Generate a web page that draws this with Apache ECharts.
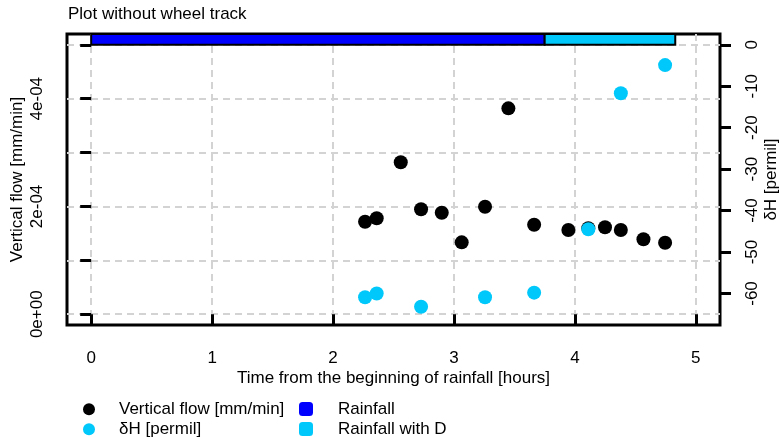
<!DOCTYPE html>
<html><head><meta charset="utf-8">
<script src="https://cdn.jsdelivr.net/npm/echarts@6/dist/echarts.min.js"></script>
<style>html,body{margin:0;padding:0;background:#fff}#c{width:779px;height:437px}</style>
</head><body><div id="c"></div>
<script>
// ---- data ----
const flowTime  = [2.265, 2.361, 2.56, 2.728, 2.899, 3.064, 3.257, 3.450, 3.663, 3.946, 4.111, 4.249, 4.380, 4.567, 4.746];
const flowValue = [1.717e-4, 1.780e-4, 2.82e-4, 1.947e-4, 1.883e-4, 1.334e-4, 1.995e-4, 3.82e-4, 1.661e-4, 1.563e-4, 1.594e-4, 1.613e-4, 1.563e-4, 1.390e-4, 1.327e-4];
const dHTime  = [2.265, 2.361, 2.728, 3.257, 3.663, 4.111, 4.380, 4.746];
const dHValue = [-60.9, -60.0, -63.2, -60.9, -59.8, -44.5, -11.7, -4.9];
const rainfallPeriod  = [0, 3.75];
const rainfallDPeriod = [3.75, 4.83];
const xTickValues = [0, 1, 2, 3, 4, 5];
const leftTickValues = [0, 1e-4, 2e-4, 3e-4, 4e-4, 5e-4];
const leftLabelValues = [0, 2e-4, 4e-4];
const leftLabelTexts = ['0e+00', '2e-04', '4e-04'];
const rightTickValues = [0, -10, -20, -30, -40, -50, -60];

// ---- chart ----
const FONT = 'Liberation Sans';
const TXT = {fontFamily: FONT, fontSize: 17, color: '#000'};
const X_MIN = -0.2, X_MAX = 5.2;
const YL_MIN = -0.2e-4, YL_MAX = 5.2e-4;
const YR_MIN = -67.6, YR_MAX = 2.6;
const CYAN = '#00C8FA', BLUE = '#0000FF';
const gridLine = {show: true, lineStyle: {color: '#D3D3D3', type: [7, 5], width: 2}};
const tick = (vals) => ({show: true, length: 11, customValues: vals, lineStyle: {color: '#000', width: 3}});

function rainRender(params, api) {
  const a = api.coord([api.value(0), api.value(2)]);
  const b = api.coord([api.value(1), api.value(3)]);
  return {
    type: 'rect',
    shape: {x: a[0], y: b[1], width: b[0] - a[0], height: a[1] - b[1]},
    style: {fill: api.visual('color'), stroke: '#000', lineWidth: 2}
  };
}

const chart = echarts.init(document.getElementById('c'), null, {renderer: 'canvas'});
chart.setOption({
  animation: false,
  backgroundColor: '#fff',
  title: {text: 'Plot without wheel track', left: 68, top: 6, padding: 0,
    textStyle: Object.assign({fontWeight: 'normal'}, TXT)},
  grid: {left: 67, top: 34, width: 653, height: 291, show: true,
    borderColor: '#000', borderWidth: 3, backgroundColor: 'transparent', outerBoundsMode: 'none'},
  legend: [
    {orient: 'vertical', left: 83, top: 400.8, height: 60, padding: 0, itemGap: 3,
      itemWidth: 12, itemHeight: 12, textStyle: Object.assign({padding: [0, 0, 0, 19]}, TXT),
      data: [{name: 'Vertical flow [mm/min]', icon: 'circle'}, {name: 'δH [permil]', icon: 'circle'}]},
    {orient: 'vertical', left: 299, top: 400.5, height: 60, padding: 0, itemGap: 3,
      itemWidth: 14, itemHeight: 14, textStyle: Object.assign({padding: [0, 0, 0, 20]}, TXT),
      data: [{name: 'Rainfall', icon: 'roundRect'}, {name: 'Rainfall with D', icon: 'roundRect'}]}
  ],
  xAxis: {
    type: 'value', min: X_MIN, max: X_MAX,
    axisLine: {show: false}, axisTick: tick(xTickValues),
    axisLabel: Object.assign({customValues: xTickValues, margin: 25}, TXT),
    splitLine: gridLine,
    name: 'Time from the beginning of rainfall [hours]', nameLocation: 'middle', nameGap: 45,
    nameMoveOverlap: false, nameTextStyle: TXT
  },
  yAxis: [
    {
      type: 'value', position: 'left', min: YL_MIN, max: YL_MAX,
      axisLine: {show: false}, axisTick: tick(leftTickValues),
      axisLabel: Object.assign({customValues: leftLabelValues, rotate: 90, margin: 21,
        formatter: (v) => { const i = leftLabelValues.findIndex(t => Math.abs(t - v) < 1e-9); return i >= 0 ? leftLabelTexts[i] : ''; }}, TXT),
      splitLine: gridLine,
      name: 'Vertical flow [mm/min]', nameLocation: 'middle', nameGap: 41.5, nameRotate: 90,
      nameMoveOverlap: false, nameTextStyle: TXT
    },
    {
      type: 'value', position: 'right', min: YR_MIN, max: YR_MAX,
      axisLine: {show: false}, axisTick: tick(rightTickValues),
      axisLabel: Object.assign({customValues: rightTickValues, rotate: 90, margin: 24}, TXT),
      splitLine: {show: false},
      name: 'δH [permil]', nameLocation: 'middle', nameGap: 42.5, nameRotate: 90,
      nameMoveOverlap: false, nameTextStyle: TXT
    }
  ],
  series: [
    {name: 'Rainfall', type: 'custom', xAxisIndex: 0, yAxisIndex: 1, renderItem: rainRender,
      itemStyle: {color: BLUE}, encode: {x: [0, 1], y: [2, 3]},
      data: [[rainfallPeriod[0], rainfallPeriod[1], 0, YR_MAX]], z: 3},
    {name: 'Rainfall with D', type: 'custom', xAxisIndex: 0, yAxisIndex: 1, renderItem: rainRender,
      itemStyle: {color: CYAN}, encode: {x: [0, 1], y: [2, 3]},
      data: [[rainfallDPeriod[0], rainfallDPeriod[1], 0, YR_MAX]], z: 3},
    {name: 'Vertical flow [mm/min]', type: 'scatter', yAxisIndex: 0, symbol: 'circle', symbolSize: 14,
      itemStyle: {color: '#000', opacity: 1},
      data: flowTime.map((t, i) => [t, flowValue[i]]), z: 4},
    {name: 'δH [permil]', type: 'scatter', yAxisIndex: 1, symbol: 'circle', symbolSize: 14,
      itemStyle: {color: CYAN, opacity: 1},
      data: dHTime.map((t, i) => [t, dHValue[i]]), z: 5}
  ]
});
</script>
</body></html>
